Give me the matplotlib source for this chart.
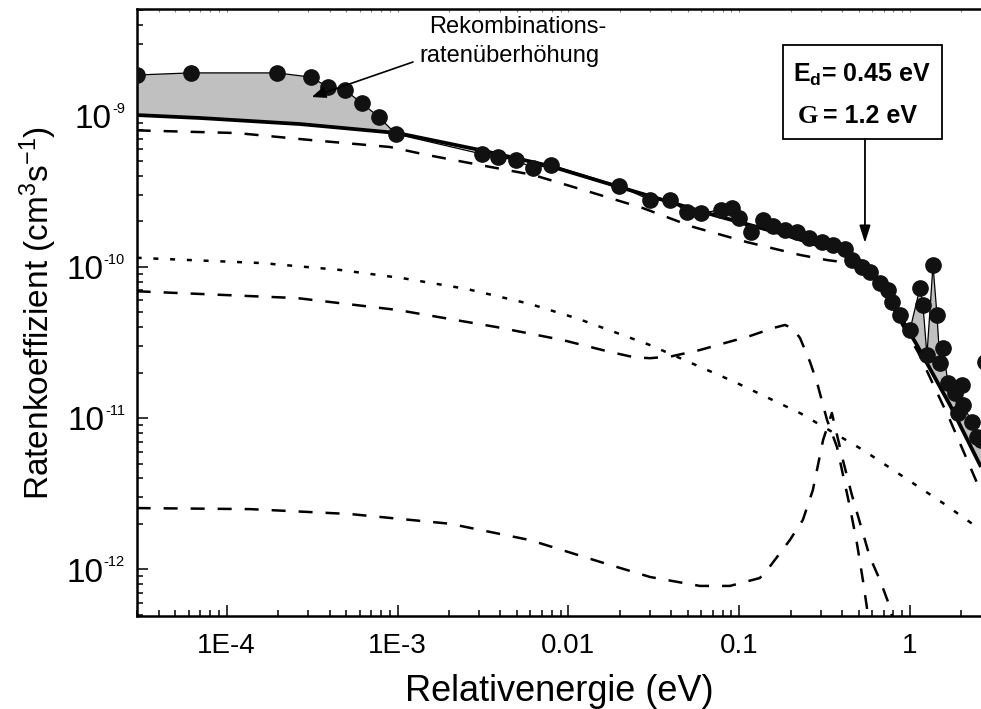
import numpy as np
import matplotlib
matplotlib.use("Agg")
import matplotlib.pyplot as plt
import matplotlib.transforms as mtransforms
from matplotlib.ticker import FixedLocator, FixedFormatter, LogLocator, NullFormatter
from matplotlib.patches import Rectangle

plt.rcParams['font.family'] = ['Liberation Sans', 'DejaVu Sans']
plt.rcParams['mathtext.fontset'] = 'custom'
plt.rcParams['mathtext.rm'] = 'Liberation Sans'
plt.rcParams['mathtext.it'] = 'Liberation Sans:italic'
plt.rcParams['mathtext.bf'] = 'Liberation Sans:bold'

# ---- measured rate coefficient ----
energy_data = [3.0e-5, 6.17e-5, 1.97e-4, 3.11e-4, 3.91e-4, 4.92e-4, 6.19e-4, 7.78e-4,
               9.79e-4, 3.12e-3, 3.87e-3, 4.93e-3, 6.21e-3, 7.91e-3, 0.0198, 0.0301,
               0.0393, 0.0495, 0.0598, 0.0782, 0.0907, 0.0997, 0.1173, 0.1378, 0.1578,
               0.1854, 0.218, 0.2563, 0.3054, 0.354, 0.416, 0.457, 0.524, 0.583, 0.667,
               0.743, 0.785, 0.874, 1.0, 1.144, 1.191, 1.257, 1.364, 1.439, 1.498, 1.561,
               1.669, 1.834, 1.91, 2.016, 2.043, 2.307, 2.468, 2.605, 2.75]
rate_data = [1.86e-9, 1.92e-9, 1.92e-9, 1.80e-9, 1.55e-9, 1.48e-9, 1.21e-9, 9.80e-10,
             7.57e-10, 5.58e-10, 5.33e-10, 5.09e-10, 4.51e-10, 4.72e-10, 3.43e-10, 2.77e-10,
             2.77e-10, 2.31e-10, 2.27e-10, 2.38e-10, 2.45e-10, 2.11e-10, 1.70e-10, 2.04e-10,
             1.86e-10, 1.75e-10, 1.70e-10, 1.55e-10, 1.46e-10, 1.40e-10, 1.31e-10, 1.11e-10,
             9.98e-11, 9.25e-11, 7.83e-11, 7.03e-11, 5.86e-11, 4.81e-11, 3.83e-11, 7.25e-11,
             5.60e-11, 2.61e-11, 1.03e-10, 4.81e-11, 2.31e-11, 2.91e-11, 1.71e-11, 1.47e-11,
             1.08e-11, 1.66e-11, 1.22e-11, 9.42e-12, 7.50e-12, 7.16e-12, 2.35e-11]

# ---- total model rate ----
fit_energy = [2.97e-5, 6.97e-5, 2.68e-4, 1.0e-3, 3.04e-3, 7.8e-3, 0.0182, 0.0703, 0.173,
              0.300, 0.389, 0.476, 0.583, 0.764, 0.935, 1.099, 1.715, 2.605]
fit_rate = [1.01e-9, 9.66e-10, 8.81e-10, 7.68e-10, 5.93e-10, 4.65e-10, 3.48e-10, 2.21e-10,
            1.67e-10, 1.37e-10, 1.29e-10, 1.16e-10, 9.84e-11, 6.23e-11, 4.13e-11, 3.04e-11,
            1.22e-11, 4.75e-12]

# ---- individual contributions ----
partA_energy = [2.97e-5, 1.15e-4, 3.07e-4, 9.03e-4, 1.49e-3, 3.04e-3, 6.21e-3, 0.0134, 0.0273,
                0.0536, 0.111, 0.227, 0.327, 0.445, 0.583, 0.764, 0.935, 1.114, 1.715, 2.605]
partA_rate = [8.0e-10, 7.68e-10, 6.91e-10, 6.21e-10, 5.50e-10, 4.72e-10, 4.06e-10, 3.13e-10,
              2.45e-10, 1.84e-10, 1.46e-10, 1.20e-10, 1.11e-10, 1.06e-10, 8.97e-11, 5.77e-11,
              3.83e-11, 2.74e-11, 9.7e-12, 3.24e-12]

dotted_energy = [2.97e-5, 3.46e-5, 1.61e-4, 4.60e-4, 1.08e-3, 2.55e-3, 5.96e-3, 0.0114, 0.0301,
                 0.0945, 0.227, 0.531, 1.561, 2.605]
dotted_rate = [1.15e-10, 1.14e-10, 1.06e-10, 9.55e-11, 8.41e-11, 7.14e-11, 5.69e-11, 4.54e-11,
               3.04e-11, 1.73e-11, 1.08e-11, 6.15e-12, 2.74e-12, 1.82e-12]

partB_energy = [2.97e-5, 2.58e-4, 1.0e-3, 3.80e-3, 9.29e-3, 0.0175, 0.0245, 0.0301, 0.040,
                0.0589, 0.1156, 0.158, 0.1854, 0.205, 0.227, 0.260, 0.286, 0.327, 0.374,
                0.445, 0.489, 0.530, 0.568, 0.599]
partB_rate = [6.90e-11, 6.22e-11, 5.19e-11, 4.00e-11, 3.28e-11, 2.74e-11, 2.52e-11, 2.49e-11,
              2.56e-11, 2.82e-11, 3.49e-11, 3.94e-11, 4.13e-11, 3.94e-11, 3.39e-11, 2.35e-11,
              1.71e-11, 9.71e-12, 6.44e-12, 2.58e-12, 1.49e-12, 8.49e-13, 4.98e-13, 3.4e-13]

partC_energy = [2.97e-5, 1.37e-4, 5.26e-4, 2.03e-3, 5.96e-3, 0.0153, 0.0301, 0.0589, 0.0883,
                0.132, 0.151, 0.198, 0.236, 0.270, 0.310, 0.349, 0.405, 0.457, 0.524, 0.583,
                0.667, 0.764, 0.817]
partC_rate = [2.54e-12, 2.50e-12, 2.32e-12, 2.00e-12, 1.56e-12, 1.12e-12, 8.89e-13, 7.76e-13,
              7.76e-13, 8.75e-13, 1.04e-12, 1.56e-12, 2.12e-12, 3.34e-12, 7.16e-12, 1.08e-11,
              5.27e-12, 3.10e-12, 1.82e-12, 1.20e-12, 8.49e-13, 5.62e-13, 3.96e-13]

xtick_values = [1e-4, 1e-3, 1e-2, 1e-1, 1]
xtick_labels = ['1E-4', '1E-3', '0.01', '0.1', '1']
ytick_values = [1e-12, 1e-11, 1e-10, 1e-9]
ytick_exponents = ['-12', '-11', '-10', '-9']

fig = plt.figure(figsize=(9.81, 7.09), dpi=100)
ax = fig.add_axes([0.1393, 0.1312, 0.8607, 0.8561])
ax.set_xscale('log')
ax.set_yscale('log')
ax.set_xlim(2.97e-5, 2.605)
ax.set_ylim(4.91e-13, 5.08e-9)

# shaded enhancement: measured rate above the model
e = np.array(energy_data)
r = np.array(rate_data)
model_at_e = 10 ** np.interp(np.log10(e), np.log10(fit_energy), np.log10(fit_rate))
ax.fill_between(e, r, model_at_e, where=r >= model_at_e, interpolate=True,
                color='#c0c0c0', lw=0, zorder=1)

dash = (0, (5.6, 5.2))
ax.plot(partA_energy, partA_rate, color='black', lw=1.8, ls=dash, zorder=2)
ax.plot(partB_energy, partB_rate, color='black', lw=1.8, ls=dash, zorder=2)
ax.plot(partC_energy, partC_rate, color='black', lw=1.8, ls=dash, zorder=2)
ax.plot(dotted_energy, dotted_rate, color='black', lw=1.8, ls=(0, (2.0, 4.7)), zorder=2)
ax.plot(fit_energy, fit_rate, color='black', lw=2.7, zorder=3, solid_capstyle='butt')
ax.plot(energy_data, rate_data, '-', color='black', lw=0.9, marker='o', ms=11,
        mfc='#111111', mec='#111111', zorder=4)

# axes styling
ax.xaxis.set_major_locator(FixedLocator(xtick_values))
ax.xaxis.set_major_formatter(FixedFormatter(xtick_labels))
ax.xaxis.set_minor_locator(LogLocator(base=10, subs=np.arange(2, 10) * 1.0, numticks=30))
ax.xaxis.set_minor_formatter(NullFormatter())
ax.yaxis.set_major_locator(FixedLocator(ytick_values))
ax.yaxis.set_minor_locator(LogLocator(base=10, subs=np.arange(2, 10) * 1.0, numticks=30))
ax.yaxis.set_minor_formatter(NullFormatter())

ax.tick_params(which='both', direction='in', width=1.1, top=False, right=False)
ax.tick_params(which='major', length=8)
ax.tick_params(which='minor', length=4.5)
ax.tick_params(axis='x', labelsize=20, pad=12)
ax.tick_params(axis='y', labelleft=False)
for side in ['left', 'bottom', 'top']:
    ax.spines[side].set_linewidth(1.8)
ax.spines['right'].set_visible(False)

sec = ax.secondary_xaxis('top')
sec.tick_params(which='both', direction='in', length=2.5, width=0.8, color='#888888',
                labeltop=False)
sec.xaxis.set_minor_locator(LogLocator(base=10, subs=np.arange(2, 10) * 1.0, numticks=30))
sec.spines['top'].set_linewidth(0)

# y tick labels: "10" with a small raised exponent, right-aligned
renderer = fig.canvas.get_renderer()
blend = mtransforms.blended_transform_factory(ax.transAxes, ax.transData)
label_right = -0.0139
for val, exp in zip(ytick_values, ytick_exponents):
    t_exp = ax.text(label_right, val, exp, fontsize=10.5, ha='right', va='baseline',
                    clip_on=False,
                    transform=mtransforms.offset_copy(blend, fig=fig, x=0, y=2.0,
                                                      units='points'))
    w_pts = t_exp.get_window_extent(renderer=renderer).width * 72.0 / fig.dpi
    ax.text(label_right, val, '10', fontsize=24, ha='right', va='baseline', clip_on=False,
            transform=mtransforms.offset_copy(blend, fig=fig, x=-w_pts, y=-8.9,
                                              units='points'))

ax.set_xlabel('Relativenergie (eV)', fontsize=26)
ax.xaxis.set_label_coords(0.5, -0.0956)
ax.set_ylabel('Ratenkoeffizient (cm$^3$s$^{-1}$)', fontsize=24)
ax.yaxis.set_label_coords(-0.092, 0.5)

# annotation of the enhancement
ax.text(0.3463, 0.9605, 'Rekombinations-', transform=ax.transAxes, fontsize=17,
        ha='left', va='baseline', zorder=6)
ax.text(0.3345, 0.9127, 'ratenüberhöhung', transform=ax.transAxes, fontsize=17,
        ha='left', va='baseline', zorder=6)
ax.annotate('', xy=(3.15e-4, 1.33e-9), xycoords='data',
            xytext=(0.3273, 0.9127), textcoords='axes fraction',
            arrowprops=dict(arrowstyle='-|>,head_length=0.6,head_width=0.25',
                            color='black', lw=1.2, shrinkA=0, shrinkB=0,
                            mutation_scale=14), zorder=6)

# resonance parameter box
ax.add_patch(Rectangle((0.765, 0.7853), 0.1885, 0.1554, transform=ax.transAxes,
                       fc='white', ec='black', lw=1.3, zorder=6))
ax.text(0.859, 0.8802, r'E$_{\mathbf{d}}$= 0.45 eV', transform=ax.transAxes,
        fontsize=18, fontweight='bold', ha='center', va='baseline', zorder=7)
ax.text(0.7833, 0.8117, 'G', transform=ax.transAxes, fontsize=19, fontweight='bold',
        family=['Liberation Serif', 'DejaVu Serif'], ha='left', va='baseline', zorder=7)
ax.text(0.8129, 0.8117, '= 1.2 eV', transform=ax.transAxes, fontsize=18,
        fontweight='bold', ha='left', va='baseline', zorder=7)
ax.annotate('', xy=(0.545, 1.44e-10), xycoords='data',
            xytext=(0.8626, 0.7853), textcoords='axes fraction',
            arrowprops=dict(arrowstyle='-|>,head_length=0.7,head_width=0.22',
                            color='black', lw=1.3, shrinkA=0, shrinkB=0,
                            mutation_scale=15), zorder=7)

fig.savefig('out.png', dpi=100)
